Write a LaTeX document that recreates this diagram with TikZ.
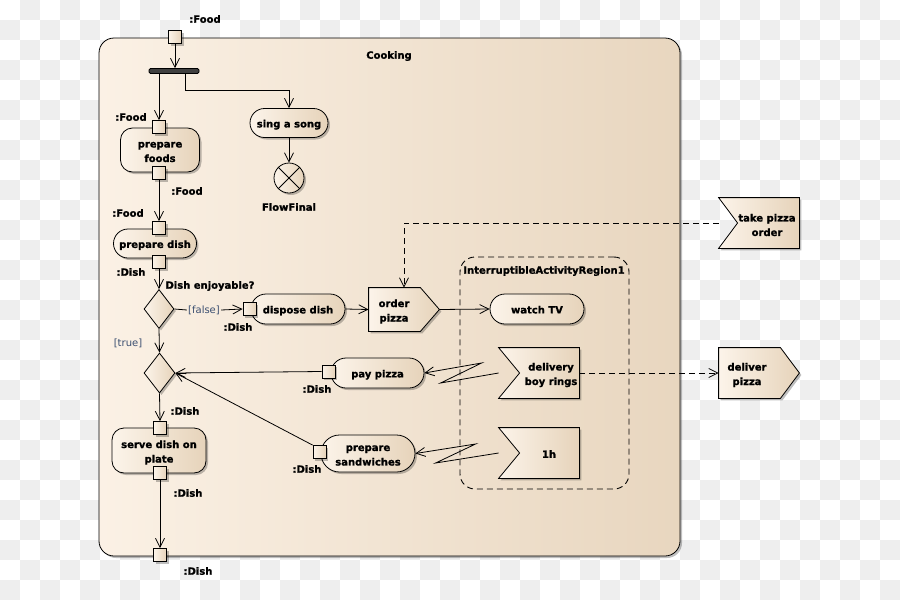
\documentclass[tikz,border=0pt]{standalone}
\usepackage{fontspec}
\setmainfont{DejaVu Sans}[BoldFeatures={FakeBold=1.2}]
\usetikzlibrary{arrows.meta,shapes.geometric,shapes.misc,shadows}
\definecolor{nL}{HTML}{FCF4EA}
\definecolor{nR}{HTML}{E6D3BA}
\definecolor{fL}{HTML}{FBF1E5}
\definecolor{fR}{HTML}{E8D6BF}
\definecolor{chk}{HTML}{EEEEEE}
\definecolor{guardc}{HTML}{3A4E70}
\definecolor{barc}{HTML}{404040}
\begin{document}
\begin{tikzpicture}[x=1pt,y=-1pt,line width=0.8pt,
  every node/.style={font=\fontsize{10}{14.5}\selectfont\bfseries,inner sep=1pt},
  sh/.style={drop shadow={shadow xshift=2pt,shadow yshift=-2pt,fill=black,opacity=0.25}},
  grad/.style={left color=nL,right color=nR},
  act/.style={draw,rounded rectangle,grad,sh,align=center,minimum height=29pt,text height=9.8pt,text depth=1pt},
  actshape/.style={draw,rounded rectangle,grad,sh},
  actbox/.style={draw,rectangle,rounded corners=12pt,grad,sh},
  pinbox/.style={draw,rectangle,minimum size=13pt,inner sep=0pt,grad,sh},
  dec/.style={draw,diamond,grad,sh,inner sep=0pt,minimum width=30pt,minimum height=39pt},
  tag/.style={inner sep=0pt,yshift=-2pt},
  guard/.style={inner sep=1pt,yshift=-1pt,font=\fontsize{10}{12}\selectfont,text=guardc},
  flow/.style={-{Straight Barb[length=9pt,width=9pt]}},
  dflow/.style={flow,dash pattern=on 6pt off 4pt},
  sigbox/.style={rectangle,inner sep=0pt,minimum width=80pt,minimum height=50pt},
  sigfill/.style={draw,grad,sh},
  txt/.style={align=center,inner sep=0pt,yshift=-2pt}
]
\useasboundingbox (0,0) rectangle (900,600);
\fill[white] (0,0) rectangle (900,600);
\foreach \i in {0,...,44}{\foreach \j in {0,...,29}{%
  \pgfmathtruncatemacro\k{mod(\i+\j,2)}%
  \ifnum\k=1 \fill[chk] (\i*20,\j*20) rectangle ++(20,20);\fi}}

% frame
\node[draw,rectangle,rounded corners=15pt,left color=fL,right color=fR,sh,
      minimum width=581pt,minimum height=518pt] (frame) at (389.5,297) {};
\node[tag] (cooking) at (389,54) {Cooking};

% interruptible region
\node[draw,rectangle,rounded corners=15pt,line width=0.9pt,dash pattern=on 6pt off 4pt,
      minimum width=169pt,minimum height=232pt] (region) at (544.5,373) {};
\node[tag] (regionlbl) at (544,269) {InterruptibleActivityRegion1};

% top part
\node[pinbox] (inpin) at (175,37) {};
\node[tag] (l1) at (205,17) {:Food};
\node[draw,rectangle,rounded corners=1.5pt,fill=barc,inner sep=0pt,minimum width=50pt,minimum height=5pt] (fork) at (174,71) {};

\node[act,minimum width=80pt] (sing) at (289,123) {sing a song};
\node[draw,circle,grad,sh,minimum size=30pt,inner sep=0pt] (ff) at (289,178) {};
\draw (ff.north west) -- (ff.south east) (ff.north east) -- (ff.south west);
\node[tag] (fflbl) at (289,205) {FlowFinal};

\node[actbox,minimum width=79pt,minimum height=44pt] (pf) at (160,150) {};
\node[txt] (pflbl) at (160,150) {prepare\\foods};
\node[pinbox] (pfin) at (159,127) {};
\node[pinbox] (pfout) at (159,173) {};
\node[tag] (l2) at (131,115) {:Food};
\node[tag] (l3) at (187,189) {:Food};

\node[act,minimum width=85pt] (pd) at (155,243.5) {prepare dish};
\node[pinbox] (pdin) at (159,228) {};
\node[pinbox] (pdout) at (159,262) {};
\node[tag] (l4) at (128,211) {:Food};
\node[tag] (l5) at (131,270) {:Dish};

\node[dec] (d1) at (159,309) {};
\node[tag] (l6) at (210,284) {Dish enjoyable?};
\node[guard] (falselbl) at (204,309) {[false]};

\node[act,minimum width=96pt,minimum height=30pt] (dd) at (298,309) {dispose dish};
\node[pinbox] (ddpin) at (249.5,309) {};
\node[tag] (l7) at (238,325) {:Dish};

% order pizza (send signal)
\node[sigbox,minimum width=70pt,minimum height=43pt] (order) at (404,309.5) {};
\draw[sigfill] (order.north west) -- ([xshift=-19pt]order.north east) -- (order.east)
  -- ([xshift=-19pt]order.south east) -- (order.south west) -- cycle;
\node[txt] (orderlbl) at (394,309.5) {order\\pizza};

\node[act,minimum width=96pt,minimum height=30pt] (watch) at (537,309) {watch TV};

% take pizza order (accept event)
\node[sigbox] (take) at (759,223) {};
\draw[sigfill] (take.north west) -- (take.north east) -- (take.south east)
  -- (take.south west) -- ([xshift=19pt]take.west) -- cycle;
\node[txt] (takelbl) at (767,223) {take pizza\\order};

% delivery boy rings
\node[sigbox] (dbr) at (539,373) {};
\draw[sigfill] (dbr.north west) -- (dbr.north east) -- (dbr.south east)
  -- (dbr.south west) -- ([xshift=21pt]dbr.west) -- cycle;
\node[txt] (dbrlbl) at (551,373) {delivery\\boy rings};

% 1h
\node[sigbox] (oneh) at (539,453) {};
\draw[sigfill] (oneh.north west) -- (oneh.north east) -- (oneh.south east)
  -- (oneh.south west) -- ([xshift=21pt]oneh.west) -- cycle;
\node[txt] (onehlbl) at (549,452) {1h};

% deliver pizza
\node[sigbox] (deliver) at (759,373) {};
\draw[sigfill] (deliver.north west) -- ([xshift=-19pt]deliver.north east) -- (deliver.east)
  -- ([xshift=-19pt]deliver.south east) -- (deliver.south west) -- cycle;
\node[txt] (deliverlbl) at (747,373) {deliver\\pizza};

% pay pizza / sandwiches
\node[act,minimum width=95pt,minimum height=30pt] (pay) at (377.5,373) {pay pizza};
\node[pinbox] (paypin) at (328.5,371.5) {};
\node[tag] (l8) at (317,387) {:Dish};

\node[actshape,minimum width=96pt,minimum height=37pt] (sw) at (368,453.5) {};
\node[txt] (swlbl) at (368,453.5) {prepare\\sandwiches};
\node[pinbox] (swpin) at (319.5,452) {};
\node[tag] (l9) at (307,467) {:Dish};

% merge and serve
\node[dec,minimum width=31pt,minimum height=40pt] (d2) at (159.5,373) {};
\node[guard] (truelbl) at (128,342) {[true]};
\node[tag] (l10) at (185,409) {:Dish};

\node[actbox,minimum width=94pt,minimum height=45pt] (sd) at (159,450.5) {};
\node[txt] (sdlbl) at (159,450.5) {serve dish on\\plate};
\node[pinbox] (sdin) at (160,428) {};
\node[pinbox] (sdout) at (160,473) {};
\node[tag] (l11) at (188,491) {:Dish};

\node[pinbox] (outpin) at (160,555) {};
\node[tag] (l12) at (198,569) {:Dish};

% connectors
\draw[flow] (inpin.south) -- (inpin.south |- fork.north);
\draw[flow] (pfin.north |- fork.south) -- (pfin.north);
\draw[flow] ([xshift=11pt]fork.south) -- ++(0,16) -| (sing.north);
\draw[flow] (sing.south) -- (ff.north);
\draw[flow] (pfout.south) -- (pdin.north);
\draw[flow] (pdout.south) -- (d1.north);
\draw (d1.east) -- (falselbl.west);
\draw[flow] (falselbl.east) -- (ddpin.west);
\draw[flow] (dd.east) -- (order.west);
\draw[dflow] (take.west) -| (order.north);
\draw[flow] (order.east) -- (watch.west);
\draw[flow] (dbr.west) -- ++(-58,10) -- ++(41,-20) -- (pay.east);
\draw[flow] (oneh.west) -- ++(-63,10) -- ++(40,-19) -- (sw.east);
\draw[dflow] (dbr.east) -- (deliver.west);
\draw[flow] (paypin.west) -- (d2.east);
\draw[flow] (swpin.north west) -- (d2.east);
\draw[flow] (d1.south) -- (d2.north);
\draw[flow] (d2.south) -- (sdin.north);
\draw[flow] (sdout.south) -- (outpin.north);
\end{tikzpicture}
\end{document}
